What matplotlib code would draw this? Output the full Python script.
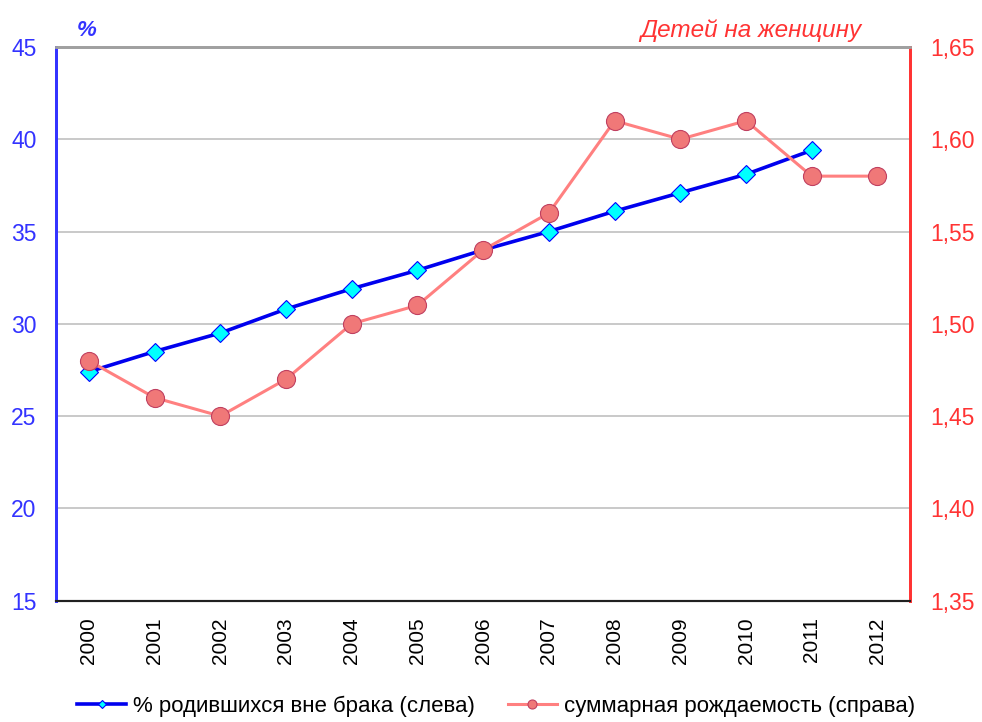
import matplotlib
matplotlib.use("Agg")
import matplotlib.pyplot as plt

plt.rcParams['font.family'] = ['Liberation Sans', 'DejaVu Sans']

years = ['2000', '2001', '2002', '2003', '2004', '2005', '2006',
         '2007', '2008', '2009', '2010', '2011', '2012']
out_of_wedlock = [27.4, 28.5, 29.5, 30.8, 31.9, 32.9, 34.0,
                  35.0, 36.1, 37.1, 38.1, 39.4]
fertility = [1.48, 1.46, 1.45, 1.47, 1.50, 1.51, 1.54,
             1.56, 1.61, 1.60, 1.61, 1.58, 1.58]

left_ticks = [15, 20, 25, 30, 35, 40, 45]
right_ticks = [1.35, 1.40, 1.45, 1.50, 1.55, 1.60, 1.65]

BLUE = '#0000ee'
LBLUE = '#3333ff'
RED = '#ff3333'
SALMON = '#ff8080'

fig = plt.figure(figsize=(9.82, 7.22), dpi=100)
ax = fig.add_axes([0.057, 0.168, 0.870, 0.767])
ax2 = ax.twinx()

x = list(range(len(years)))

l1, = ax.plot(x[:len(out_of_wedlock)], out_of_wedlock, color=BLUE, lw=2.6,
              marker='D', markersize=9, markerfacecolor='#00ffff',
              markeredgecolor='#0000ff', markeredgewidth=0.8,
              label='% родившихся вне брака (слева)')
l2, = ax2.plot(x, fertility, color=SALMON, lw=2.2,
               marker='o', markersize=13, markerfacecolor='#f07878',
               markeredgecolor='#c04060', markeredgewidth=0.8,
               label='суммарная рождаемость (справа)')

ax.set_xlim(-0.5, len(years) - 0.5)
ax.set_ylim(15, 45)
ax2.set_ylim(1.35, 1.65)
ax.set_yticks(left_ticks)
ax2.set_yticks(right_ticks)
ax2.set_yticklabels([f'{v:.2f}'.replace('.', ',') for v in right_ticks])
ax.set_xticks(x)
ax.set_xticklabels(years, rotation=90, fontsize=15)

ax.yaxis.grid(True, color='#c0c0c0', lw=1.2)
ax.set_axisbelow(True)

ax.tick_params(axis='y', length=0, colors=LBLUE, labelsize=16.5, pad=14)
ax2.tick_params(axis='y', length=0, colors=RED, labelsize=16.5, pad=14)
ax.tick_params(axis='x', length=0, labelsize=15, pad=12)

for a in (ax, ax2):
    a.spines['top'].set_color('#a0a0a0')
    a.spines['top'].set_linewidth(2)
    a.spines['bottom'].set_color('#202020')
    a.spines['bottom'].set_linewidth(1.5)
    a.spines['left'].set_color(LBLUE)
    a.spines['left'].set_linewidth(2)
    a.spines['right'].set_color(RED)
    a.spines['right'].set_linewidth(2)

fig.text(0.078, 0.958, '%', color=LBLUE, fontsize=16, style='italic',
         fontweight='bold', family=['Liberation Sans Narrow', 'Liberation Sans'],
         ha='left', va='center')
fig.text(0.877, 0.958, 'Детей на женщину', color=RED, fontsize=17.5,
         style='italic', family=['Liberation Sans Narrow', 'Liberation Sans'],
         ha='right', va='center')

fig.legend(handles=[l1, l2], loc='center', bbox_to_anchor=(0.505, 0.022),
           ncol=2, frameon=False, fontsize=16, handlelength=2.2,
           columnspacing=1.5, handletextpad=0.3, markerscale=0.5,
           borderpad=0.1)

fig.savefig('out.png', dpi=100)
